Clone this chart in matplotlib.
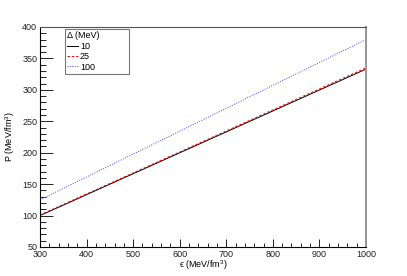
import numpy as np
import matplotlib.pyplot as plt
from matplotlib.ticker import MultipleLocator

plt.rcParams['font.family'] = ['Liberation Sans', 'DejaVu Sans']
plt.rcParams['mathtext.fontset'] = 'custom'
plt.rcParams['mathtext.rm'] = 'Liberation Sans'

# values
eps = [300, 1000]
p_10 = [100, 333]
p_25 = [101, 335]
p_100 = [125, 380]
labels = ['10', '25', '100']

fig = plt.figure(figsize=(4.07, 2.76), dpi=100)
ax = fig.add_axes([40 / 407, 1 - 247 / 276, 326 / 407, 220 / 276])

ax.plot(eps, p_10, color='black', lw=0.7, ls='-', label=labels[0])
ax.plot(eps, p_25, color='red', lw=0.7, ls=(0, (2.5, 2)), label=labels[1])
ax.plot(eps, p_100, color='#4444ff', lw=0.7, ls=(0, (1, 1.5)), label=labels[2])

ax.set_xlim(300, 1000)
ax.set_ylim(50, 400)
ax.xaxis.set_major_locator(MultipleLocator(100))
ax.xaxis.set_minor_locator(MultipleLocator(20))
ax.yaxis.set_major_locator(MultipleLocator(50))
ax.yaxis.set_minor_locator(MultipleLocator(10))
ax.tick_params(which='both', direction='in', labelsize=6.5, width=0.6,
               labelcolor='#222222')
ax.tick_params(axis='y', which='major', length=9, pad=2)
ax.tick_params(axis='y', which='minor', length=4.5)
ax.tick_params(axis='x', which='major', length=6, pad=2)
ax.tick_params(axis='x', which='minor', length=3)
for s in ['left', 'bottom']:
    ax.spines[s].set_linewidth(0.8)
ax.spines['top'].set_color('#555555')
ax.spines['top'].set_linewidth(0.8)
ax.spines['right'].set_color('#999999')
ax.spines['right'].set_linewidth(1.5)

ax.set_xlabel('\u03f5 (MeV/fm$^{3}$)', fontsize=6.5, labelpad=0)
ax.set_ylabel('P (MeV/fm$^{3}$)', fontsize=6.5, labelpad=4)

leg = ax.legend(title='\u0394 (MeV)', fontsize=6.5, title_fontsize=6.5,
                loc='upper left', bbox_to_anchor=(0.077, 0.99, 0.196, 0.0),
                mode='expand', frameon=True,
                fancybox=False, edgecolor='#555555', handlelength=1.2,
                handletextpad=0.2, labelspacing=0.15, borderpad=0.25,
                borderaxespad=0)
leg._legend_box.align = 'left'
leg.get_frame().set_linewidth(0.8)

fig.savefig('out.png', dpi=100)
